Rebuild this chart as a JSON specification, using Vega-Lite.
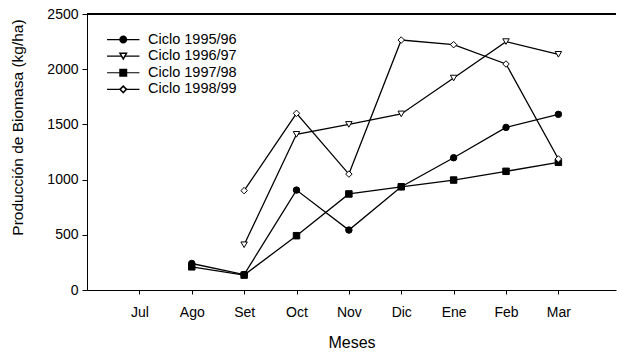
{
  "$schema": "https://vega.github.io/schema/vega-lite/v6.json",
  "width": 529,
  "height": 276,
  "autosize": {"type": "none"},
  "padding": {"left": 87, "top": 14, "right": 1, "bottom": 63},
  "background": "white",
  "config": {
    "view": {"stroke": null},
    "font": "Liberation Sans",
    "axis": {
      "domainColor": "black",
      "domainWidth": 1,
      "tickColor": "black",
      "tickWidth": 1,
      "labelColor": "black",
      "labelFont": "Liberation Sans",
      "labelFontSize": 14,
      "titleColor": "black",
      "titleFont": "Liberation Sans",
      "titleFontWeight": "normal",
      "grid": false
    }
  },
  "data": {
    "values": [
      {"mes": "Ago", "n": 2, "serie": "Ciclo 1995/96", "valor": 240},
      {"mes": "Set", "n": 3, "serie": "Ciclo 1995/96", "valor": 140},
      {"mes": "Oct", "n": 4, "serie": "Ciclo 1995/96", "valor": 905},
      {"mes": "Nov", "n": 5, "serie": "Ciclo 1995/96", "valor": 543},
      {"mes": "Dic", "n": 6, "serie": "Ciclo 1995/96", "valor": 936},
      {"mes": "Ene", "n": 7, "serie": "Ciclo 1995/96", "valor": 1198},
      {"mes": "Feb", "n": 8, "serie": "Ciclo 1995/96", "valor": 1473},
      {"mes": "Mar", "n": 9, "serie": "Ciclo 1995/96", "valor": 1591},
      {"mes": "Set", "n": 3, "serie": "Ciclo 1996/97", "valor": 410},
      {"mes": "Oct", "n": 4, "serie": "Ciclo 1996/97", "valor": 1410},
      {"mes": "Nov", "n": 5, "serie": "Ciclo 1996/97", "valor": 1500},
      {"mes": "Dic", "n": 6, "serie": "Ciclo 1996/97", "valor": 1595},
      {"mes": "Ene", "n": 7, "serie": "Ciclo 1996/97", "valor": 1920},
      {"mes": "Feb", "n": 8, "serie": "Ciclo 1996/97", "valor": 2250},
      {"mes": "Mar", "n": 9, "serie": "Ciclo 1996/97", "valor": 2135},
      {"mes": "Ago", "n": 2, "serie": "Ciclo 1997/98", "valor": 210},
      {"mes": "Set", "n": 3, "serie": "Ciclo 1997/98", "valor": 135},
      {"mes": "Oct", "n": 4, "serie": "Ciclo 1997/98", "valor": 492},
      {"mes": "Nov", "n": 5, "serie": "Ciclo 1997/98", "valor": 870},
      {"mes": "Dic", "n": 6, "serie": "Ciclo 1997/98", "valor": 935},
      {"mes": "Ene", "n": 7, "serie": "Ciclo 1997/98", "valor": 996},
      {"mes": "Feb", "n": 8, "serie": "Ciclo 1997/98", "valor": 1075},
      {"mes": "Mar", "n": 9, "serie": "Ciclo 1997/98", "valor": 1157},
      {"mes": "Set", "n": 3, "serie": "Ciclo 1998/99", "valor": 900},
      {"mes": "Oct", "n": 4, "serie": "Ciclo 1998/99", "valor": 1600},
      {"mes": "Nov", "n": 5, "serie": "Ciclo 1998/99", "valor": 1050},
      {"mes": "Dic", "n": 6, "serie": "Ciclo 1998/99", "valor": 2264},
      {"mes": "Ene", "n": 7, "serie": "Ciclo 1998/99", "valor": 2222},
      {"mes": "Feb", "n": 8, "serie": "Ciclo 1998/99", "valor": 2047},
      {"mes": "Mar", "n": 9, "serie": "Ciclo 1998/99", "valor": 1187}
    ]
  },
  "layer": [
    {
      "mark": {"type": "rule", "color": "black", "strokeWidth": 1},
      "encoding": {
        "y": {"datum": 2500, "type": "quantitative", "title": "Producción de Biomasa (kg/ha)"}
      }
    },
    {
      "mark": {"type": "line", "strokeWidth": 1.3},
      "encoding": {
        "x": {
          "field": "n",
          "type": "quantitative",
          "scale": {"domain": [0, 10.1], "nice": false, "zero": false},
          "axis": {
            "values": [1, 2, 3, 4, 5, 6, 7, 8, 9],
            "labelExpr": "['','Jul','Ago','Set','Oct','Nov','Dic','Ene','Feb','Mar'][datum.value]",
            "title": "Meses",
            "titleFontSize": 16,
            "titlePadding": 15,
            "tickSize": 4,
            "labelPadding": 11
          }
        },
        "y": {
          "field": "valor",
          "type": "quantitative",
          "title": "Producción de Biomasa (kg/ha)",
          "scale": {"domain": [0, 2500], "nice": false},
          "axis": {
            "values": [0, 500, 1000, 1500, 2000, 2500],
            "format": "d",
            "tickSize": 5,
            "labelPadding": 4,
            "titleFontSize": 15.5,
            "titleAngle": 270,
            "titleBaseline": "alphabetic",
            "titleAlign": "center",
            "titleX": -65,
            "titleY": 113
          }
        },
        "stroke": {
          "field": "serie",
          "type": "nominal",
          "scale": {
            "domain": ["Ciclo 1995/96", "Ciclo 1996/97", "Ciclo 1997/98", "Ciclo 1998/99"],
            "range": ["black", "black", "black", "black"]
          },
          "legend": {
            "orient": "none",
            "legendX": 29,
            "legendY": 18.3,
            "title": null,
            "symbolType": "M-5,0H5",
            "symbolSize": 42,
            "symbolStrokeWidth": 1.2,
            "labelExpr": "''",
            "labelOpacity": 0,
            "labelFontSize": 14.5,
            "labelFont": "Liberation Sans",
            "rowPadding": 1.6,
            "padding": 0,
            "labelOffset": 17.5,
            "zindex": 0
          }
        }
      }
    },
    {
      "mark": {"type": "point", "filled": true, "stroke": "black", "strokeWidth": 1, "size": 42, "opacity": 1},
      "encoding": {
        "x": {"field": "n", "type": "quantitative"},
        "y": {"field": "valor", "type": "quantitative", "title": "Producción de Biomasa (kg/ha)"},
        "shape": {
          "field": "serie",
          "type": "nominal",
          "scale": {"range": ["circle", "triangle-down", "square", "diamond"]},
          "legend": {
            "orient": "none",
            "legendX": 29,
            "legendY": 18.3,
            "title": null,
            "symbolSize": 42,
            "labelFontSize": 14.5,
            "labelFont": "Liberation Sans",
            "labelColor": "black",
            "rowPadding": 1.6,
            "padding": 0,
            "labelOffset": 17.5,
            "zindex": 1
          }
        },
        "fill": {
          "field": "serie",
          "type": "nominal",
          "scale": {"range": ["black", "white", "black", "white"]},
          "legend": {
            "orient": "none",
            "legendX": 29,
            "legendY": 18.3,
            "title": null,
            "symbolSize": 42,
            "labelFontSize": 14.5,
            "labelFont": "Liberation Sans",
            "labelColor": "black",
            "rowPadding": 1.6,
            "padding": 0,
            "labelOffset": 17.5,
            "zindex": 1
          }
        }
      }
    }
  ]
}
